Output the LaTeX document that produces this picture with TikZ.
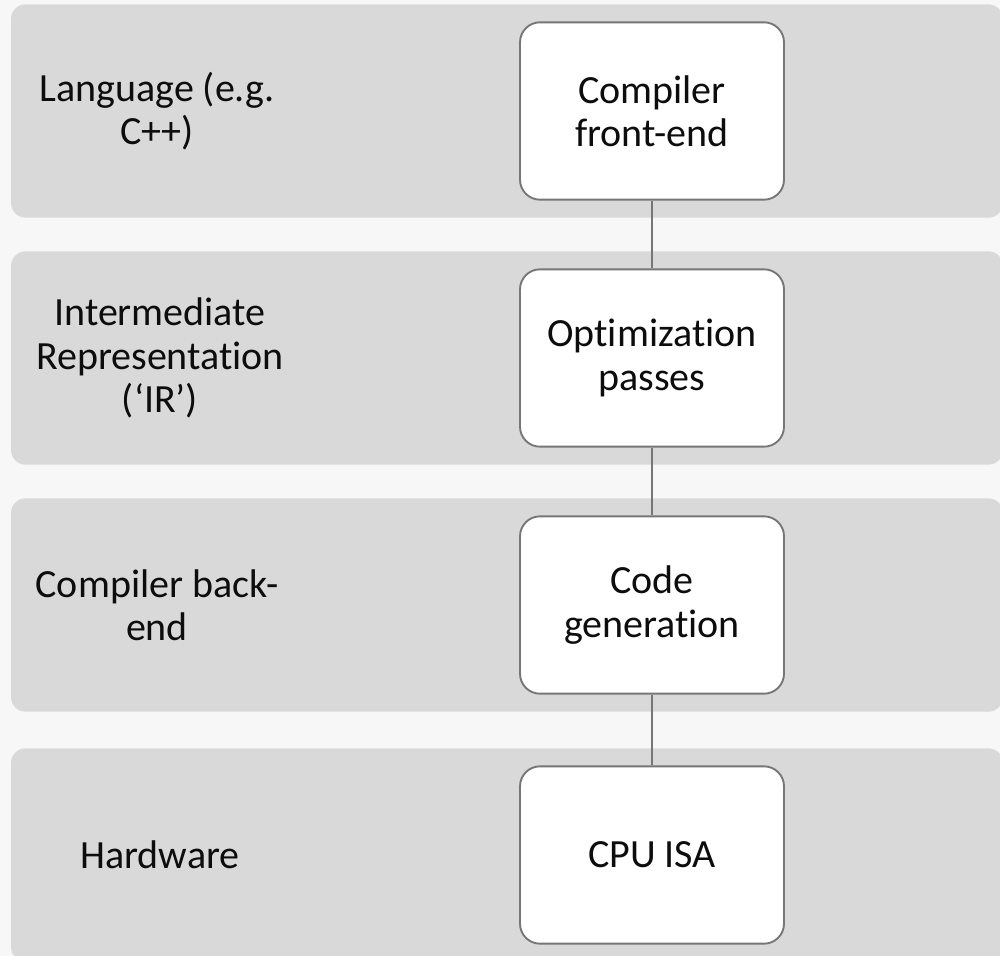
\documentclass[tikz,border=0pt]{standalone}
\usepackage{fontspec}
\setmainfont{Carlito}[Ligatures={NoCommon}]
\definecolor{pagegray}{HTML}{F7F7F7}
\definecolor{bandgray}{HTML}{D9D9D9}
\definecolor{linegray}{HTML}{767676}
\definecolor{inkgray}{HTML}{0D0D0D}
\tikzset{
  layer/.style={rectangle, fill=bandgray, rounded corners=11pt, minimum width=744pt, minimum height=160pt, inner sep=0pt},
  stage/.style={rectangle, draw=linegray, line width=1.4pt, fill=white, rounded corners=15pt, minimum width=198pt, minimum height=133pt, align=center, inner sep=0pt},
  tag/.style={align=center, inner sep=0pt},
  link/.style={draw=linegray, line width=1.4pt}
}
\begin{document}
\begin{tikzpicture}[x=0.75pt, y=-0.75pt, font=\fontsize{30}{32.5}\selectfont, text=inkgray]

\fill[pagegray] (0,0) rectangle (1000,956);
\useasboundingbox (0,0) rectangle (1000,956);

\node[layer] (band1) at (507, 111) {};
\node[tag] (lang) at (157, 111) {Language (e.g.\\C++)};
\node[stage] (front) at (652, 111) {Compiler\\front-end};

\node[layer] (band2) at (507, 358) {};
\node[tag] (ir) at (160, 358) {Intermediate\\Representation\\(‘IR’)};
\node[stage] (opt) at (652, 358) {Optimization\\passes};

\node[layer] (band3) at (507, 605) {};
\node[tag] (back) at (157, 605) {Compiler back-\\end};
\node[stage] (gen) at (652, 605) {Code\\generation};

\node[layer] (band4) at (507, 855) {};
\node[tag] (hw) at (160, 855) {Hardware};
\node[stage] (isa) at (652, 855) {CPU ISA};

\draw[link] (front.south) -- (opt.north);
\draw[link] (opt.south) -- (gen.north);
\draw[link] (gen.south) -- (isa.north);

\end{tikzpicture}
\end{document}
